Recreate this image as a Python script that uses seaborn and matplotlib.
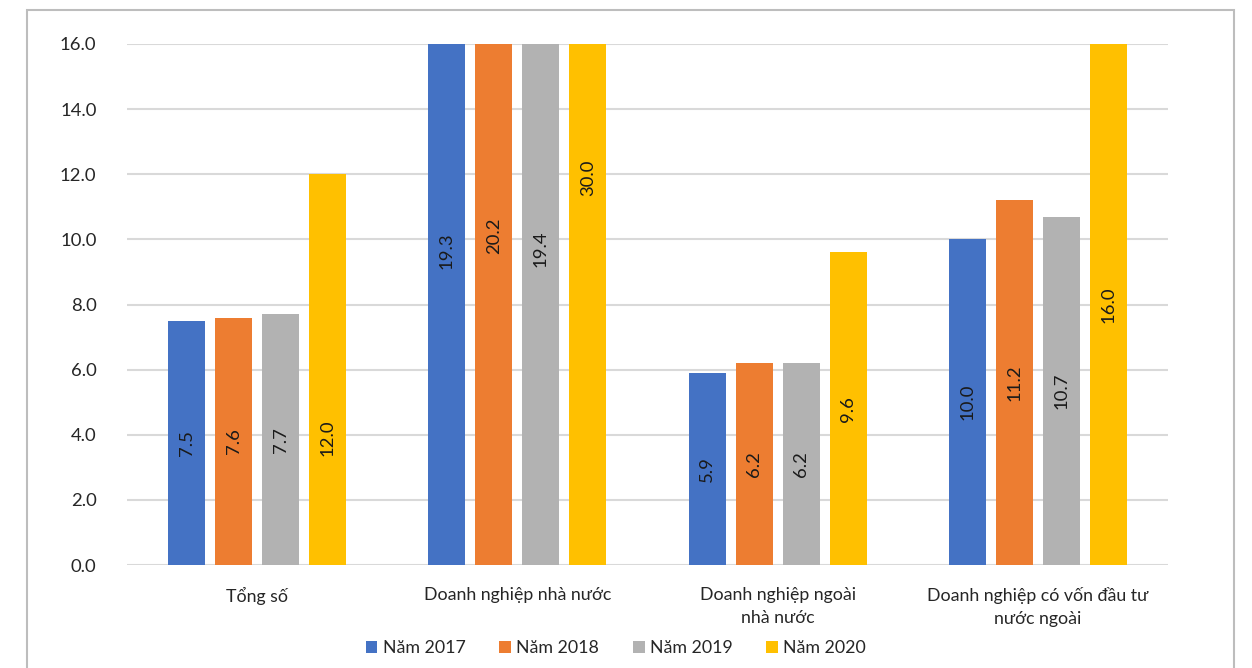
import matplotlib
matplotlib.use("Agg")
import matplotlib.pyplot as plt
from matplotlib.patches import Rectangle, Patch
import seaborn as sns
import pandas as pd

categories = ["Tổng số", "Doanh nghiệp nhà nước", "Doanh nghiệp ngoài\nnhà nước",
              "Doanh nghiệp có vốn đầu tư\nnước ngoài"]
years = ["Năm 2017", "Năm 2018", "Năm 2019", "Năm 2020"]
v2017 = [7.5, 19.3, 5.9, 10.0]
v2018 = [7.6, 20.2, 6.2, 11.2]
v2019 = [7.7, 19.4, 6.2, 10.7]
v2020 = [12.0, 30.0, 9.6, 16.0]
yticks = [0, 2, 4, 6, 8, 10, 12, 14, 16]

colors = ["#4472C4", "#ED7D31", "#B2B2B2", "#FFC000"]
# label centre overrides (data units) where the source places labels differently
label_override = {(0, 3): 3.9, (1, 3): 11.9}

series = [v2017, v2018, v2019, v2020]
rows = []
for yr, vals in zip(years, series):
    for c, v in zip(categories, vals):
        rows.append({"cat": c, "year": yr, "val": v})
df = pd.DataFrame(rows)

sns.set_theme(style="white")
plt.rcParams["font.family"] = ["Lato", "DejaVu Sans"]
FS = 12.8

fig = plt.figure(figsize=(12.52, 6.68), dpi=100)
ax = fig.add_axes([127 / 1252, 1 - 565 / 668, (1168 - 127) / 1252, (565 - 44) / 668])

sns.barplot(data=df, x="cat", y="val", hue="year", order=categories, hue_order=years,
            palette=colors, width=0.723, gap=0.213, saturation=1, ax=ax, legend=False,
            errorbar=None, linewidth=0)

ax.set_ylim(0, 16)
ax.set_xlim(-0.5, len(categories) - 0.5)
ax.set_yticks(yticks)
ax.set_yticklabels([f"{t:.1f}" for t in yticks], fontsize=FS + 0.5, color="#262626")
ax.yaxis.grid(True, color="#D9D9D9", linewidth=1.5)
ax.set_axisbelow(True)
for s in ax.spines.values():
    s.set_visible(False)
ax.tick_params(axis="y", length=0, pad=22)
ax.tick_params(axis="x", length=0, pad=16, labelsize=FS, labelcolor="#262626")
ax.set_xlabel("")
ax.set_ylabel("")
for t in ax.get_xticklabels():
    t.set_linespacing(1.5)

for j, cont in enumerate(ax.containers):
    for i, bar in enumerate(cont):
        v = series[j][i]
        yc = label_override.get((i, j), v / 2)
        ax.text(bar.get_x() + bar.get_width() / 2, yc, f"{v:.1f}", rotation=90,
                ha="center", va="center", fontsize=FS + 0.5, color="#1a1a1a")

handles = [Patch(facecolor=c, edgecolor="none") for c in colors]
fig.legend(handles, years, loc="center", bbox_to_anchor=(616 / 1252, 1 - 648 / 668), ncol=4,
           frameon=False, fontsize=FS, handlelength=0.65, handleheight=0.65,
           handletextpad=0.3, columnspacing=1.9, labelcolor="#262626")

fig.patches.append(Rectangle((27 / 1252, -0.05), (1234 - 27) / 1252, 1 - 10 / 668 + 0.05,
                             transform=fig.transFigure, fill=False, edgecolor="#BDBDBD",
                             linewidth=1.5, zorder=0))

fig.savefig("out.png", dpi=100, facecolor="white")
